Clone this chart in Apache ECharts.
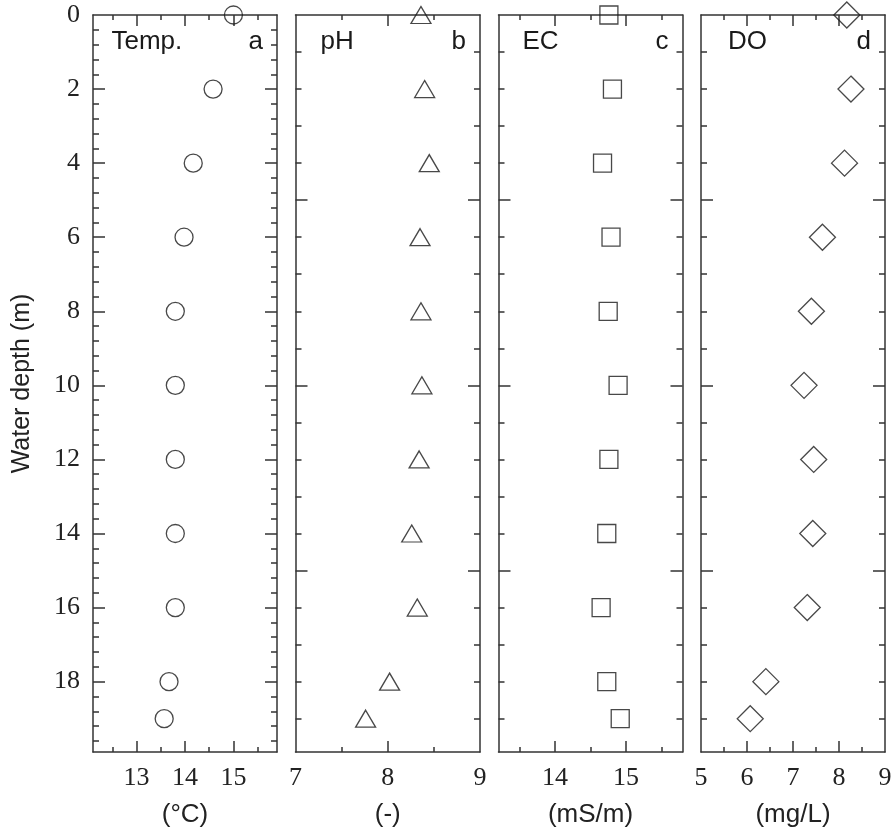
<!DOCTYPE html>
<html>
<head>
<meta charset="utf-8">
<script src="https://cdn.jsdelivr.net/npm/echarts@6/dist/echarts.min.js"></script>
<style>html,body{margin:0;padding:0;background:#fff;}#c{width:893px;height:830px;}</style>
</head>
<body>
<div id="c"></div>
<script>
// ---- data ----
const depth = [0, 2, 4, 6, 8, 10, 12, 14, 16, 18, 19];
const temp  = [15.0, 14.58, 14.17, 13.98, 13.8, 13.8, 13.8, 13.8, 13.8, 13.67, 13.57];
const ph    = [8.36, 8.40, 8.45, 8.35, 8.36, 8.37, 8.34, 8.26, 8.32, 8.02, 7.76];
const ec    = [14.76, 14.81, 14.67, 14.79, 14.75, 14.89, 14.76, 14.73, 14.65, 14.73, 14.92];
const dox   = [8.17, 8.26, 8.12, 7.64, 7.40, 7.24, 7.45, 7.43, 7.31, 6.41, 6.07];

const panelNames = ['Temp.', 'pH', 'EC', 'DO'];
const panelLetters = ['a', 'b', 'c', 'd'];
const unitNames = ['(°C)', '(-)', '(mS/m)', '(mg/L)'];

// x tick labels / ticks per panel
const xLabelsA = [13, 14, 15];
const xMajorA = [13, 14, 15];
const xMinorA = [12.5, 13.5, 14.5, 15.5];
const xLabelsB = [7, 8, 9];
const xMajorB = [8];
const xMinorB = [7.5, 8.5];
const xLabelsC = [14, 15];
const xMajorC = [14, 15];
const xMinorC = [13.5, 14.5, 15.5];
const xLabelsD = [5, 6, 7, 8, 9];
const xMajorD = [6, 7, 8];
const xMinorD = [5.5, 6.5, 7.5, 8.5];

// depth ticks
const yLabels = [0, 2, 4, 6, 8, 10, 12, 14, 16, 18];
const yMajorA = [2, 4, 6, 8, 10, 12, 14, 16, 18];
const yMinorA = [0.4,0.8,1.2,1.6,2.4,2.8,3.2,3.6,4.4,4.8,5.2,5.6,6.4,6.8,7.2,7.6,8.4,8.8,9.2,9.6,10.4,10.8,11.2,11.6,12.4,12.8,13.2,13.6,14.4,14.8,15.2,15.6,16.4,16.8,17.2,17.6,18.4,18.8,19.2,19.6];
const yMajorO = [5, 10, 15];
const yMinorO = [1,2,3,4,6,7,8,9,11,12,13,14,16,17,18,19];

const xRanges = [[12.1, 15.9], [7, 9], [13.2, 15.8], [5, 9]];
const xLabels = [xLabelsA, xLabelsB, xLabelsC, xLabelsD];
const xMajor = [xMajorA, xMajorB, xMajorC, xMajorD];
const xMinor = [xMinorA, xMinorB, xMinorC, xMinorD];
const values = [temp, ph, ec, dox];
const symbols = [['circle', 18], ['triangle', [20, 17]], ['rect', 18], ['diamond', 26]];

const grids = [
  {left: 93, width: 184, top: 15, height: 737, outerBoundsMode: 'none', containLabel: false},
  {left: 295.5, width: 184.5, top: 15, height: 737, outerBoundsMode: 'none', containLabel: false},
  {left: 498.5, width: 184, top: 15, height: 737, outerBoundsMode: 'none', containLabel: false},
  {left: 701, width: 184, top: 15, height: 737, outerBoundsMode: 'none', containLabel: false}
];

const AX = '#333';
const LW = 1.5;
const serif = 'Liberation Serif';
const sans = 'Liberation Sans';
const FS = 26;

const xAxis = [], yAxis = [], series = [], graphic = [];

for (let g = 0; g < 4; g++) {
  const [mn, mx] = xRanges[g];
  const base = {gridIndex: g, type: 'value', min: mn, max: mx, splitLine: {show: false}, axisLine: {onZero: false}};
  const xMainIdx = xAxis.length;
  // bottom major (with labels, line, name)
  xAxis.push(Object.assign({}, base, {
    position: 'bottom',
    axisLine: {show: true, onZero: false, lineStyle: {color: AX, width: LW}},
    axisTick: {show: true, inside: true, length: 11, customValues: xMajor[g], lineStyle: {color: AX, width: LW}},
    axisLabel: {show: true, customValues: xLabels[g], margin: 13, fontFamily: serif, fontSize: FS, color: '#222'},
    name: unitNames[g], nameLocation: 'middle', nameGap: 50,
    nameTextStyle: {fontFamily: sans, fontSize: FS, color: '#222'}
  }));
  // bottom minor
  xAxis.push(Object.assign({}, base, {
    position: 'bottom',
    axisLine: {show: false, onZero: false},
    axisTick: {show: true, inside: true, length: 5, customValues: xMinor[g], lineStyle: {color: AX, width: LW}},
    axisLabel: {show: false}
  }));
  // top major
  xAxis.push(Object.assign({}, base, {
    position: 'top',
    axisLine: {show: true, onZero: false, lineStyle: {color: AX, width: LW}},
    axisTick: {show: true, inside: true, length: 11, customValues: xMajor[g], lineStyle: {color: AX, width: LW}},
    axisLabel: {show: false}
  }));
  // top minor
  xAxis.push(Object.assign({}, base, {
    position: 'top',
    axisLine: {show: false, onZero: false},
    axisTick: {show: true, inside: true, length: 5, customValues: xMinor[g], lineStyle: {color: AX, width: LW}},
    axisLabel: {show: false}
  }));

  const ybase = {gridIndex: g, type: 'value', min: 0, max: 19.9, inverse: true, splitLine: {show: false}};
  const yMaj = g === 0 ? yMajorA : yMajorO;
  const yMin = g === 0 ? yMinorA : yMinorO;
  const majLen = 12, minLen = 6;
  const yMainIdx = yAxis.length;
  ['left', 'right'].forEach(function (pos) {
    const main = Object.assign({}, ybase, {
      position: pos,
      axisLine: {show: true, onZero: false, lineStyle: {color: AX, width: LW}},
      axisTick: {show: true, inside: true, length: majLen, customValues: yMaj, lineStyle: {color: AX, width: LW}},
      axisLabel: {show: false}
    });
    if (g === 0 && pos === 'left') {
      main.axisLabel = {show: true, customValues: yLabels, margin: 13, fontFamily: serif, fontSize: FS, color: '#222'};
      main.name = 'Water depth (m)';
      main.nameLocation = 'middle';
      main.nameGap = 58;
      main.nameTextStyle = {fontFamily: sans, fontSize: 25, color: '#222'};
    }
    yAxis.push(main);
    yAxis.push(Object.assign({}, ybase, {
      position: pos,
      axisLine: {show: false, onZero: false},
      axisTick: {show: true, inside: true, length: minLen, customValues: yMin, lineStyle: {color: AX, width: LW}},
      axisLabel: {show: false}
    }));
  });

  series.push({
    type: 'scatter',
    xAxisIndex: xMainIdx,
    yAxisIndex: yMainIdx,
    clip: false,
    symbol: symbols[g][0],
    symbolSize: symbols[g][1],
    itemStyle: {color: 'rgba(0,0,0,0)', borderColor: '#1a1a1a', borderWidth: 1.3},
    emphasis: {disabled: true},
    data: depth.map(function (d, i) { return [values[g][i], d]; })
  });

  const gr = grids[g];
  graphic.push({
    type: 'text', left: gr.left + (g === 0 ? 18.5 : (g === 1 ? 25 : (g === 2 ? 24 : 27))), top: 29,
    style: {text: panelNames[g], font: FS + 'px "Liberation Sans"', fill: '#1a1a1a'}
  });
  graphic.push({
    type: 'text', right: 893 - (gr.left + gr.width - 14), top: 29,
    style: {text: panelLetters[g], font: FS + 'px "Liberation Sans"', fill: '#1a1a1a'}
  });
}

const chart = echarts.init(document.getElementById('c'), null, {renderer: 'canvas'});
chart.setOption({
  animation: false,
  backgroundColor: '#fff',
  grid: grids,
  xAxis: xAxis,
  yAxis: yAxis,
  series: series,
  graphic: graphic
});
</script>
</body>
</html>
